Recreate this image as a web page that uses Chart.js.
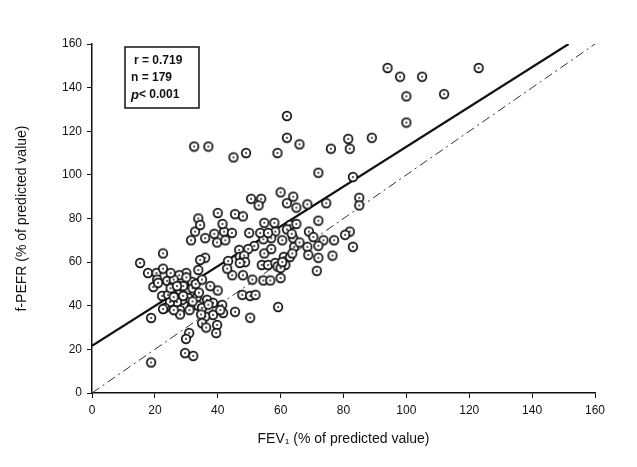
<!DOCTYPE html>
<html>
<head>
<meta charset="utf-8">
<script src="https://cdn.jsdelivr.net/npm/chart.js@4/dist/chart.umd.min.js"></script>
<style>
    body { margin: 0; background: #fff; }
    #wrap { width: 637px; height: 467px; }
</style>
</head>
<body>
<div id="wrap"><canvas id="chart" width="637" height="467"></canvas></div>
<script>
// FEV1 vs f-PEFR, both as % of predicted value
const fev1 = [
    94, 98, 105, 100, 112, 123, 100, 81.5, 89, 76, 82, 83, 85, 85, 62, 32.5, 37, 45, 49, 59,
    62, 66, 72, 82, 80.5, 60, 62, 64, 65, 68.5, 74.5, 72, 63, 65, 69, 70.4, 73.6, 77, 83, 68.5,
    72, 64.3, 64, 76.5, 68.8, 72, 71.5, 62, 63.5, 60.5, 58.3, 57, 54.5, 58, 54.8, 53.5, 56, 50, 50.6, 53.8,
    53, 40, 45.5, 48, 33.8, 32.8, 31.5, 36, 38.9, 42, 44.5, 41.5, 39.8, 42.4, 34.4, 51.6, 49.7, 46.8, 47, 48.4,
    66, 48.7, 54.8, 54, 56, 58.3, 59, 61.5, 61, 63, 63.7, 60, 60.5, 43.3, 57, 47, 44.6, 48, 51, 54.5,
    56.7, 60, 33.8, 36, 34.4, 47.8, 50.3, 52, 59.2, 50.3, 45.5, 40, 36.6, 38.5, 41.4, 41.7, 38.5, 36, 39.8, 39.5,
    15.3, 17.8, 20.5, 22.6, 22.6, 20.7, 19.5, 23.9, 25.8, 28, 31.8, 30, 27.7, 22.3, 24.2, 26.4, 28, 30, 32, 33.4,
    30.6, 28.7, 27, 24.8, 23.2, 28, 28, 31.8, 33.8, 35, 37, 26, 40.8, 34.7, 35, 36.3, 30.9, 29.9, 29.6, 32.2,
    18.8, 18.8, 22.6, 37.6, 29, 26, 30, 25, 33, 21, 34, 29, 32, 26, 43, 25, 35, 31, 27
];
const pefr = [
    149, 145, 145, 136, 137, 149, 124, 116.5, 117, 112, 112, 99, 89.5, 86, 127, 113, 113, 108, 110, 110,
    117, 114, 101, 74, 72.5, 92, 87, 90, 85, 86.5, 87, 79, 77, 77.5, 74, 71.5, 70, 70, 67, 67,
    67.5, 67, 71, 63, 63.3, 62, 56, 75, 73, 70, 74, 71, 70.5, 78, 78, 73.4, 73.4, 73.4, 89, 89,
    86, 82.5, 82, 81, 80, 74, 70, 71, 73, 74, 73.4, 77.5, 69, 70, 77, 67.4, 66, 65.6, 62.4, 63,
    69, 60, 64, 58.7, 58.7, 59.6, 58, 58.7, 62.4, 62.4, 64, 57.3, 60, 60.5, 66, 59.6, 54, 54, 52, 51.6,
    51.6, 52.7, 56.4, 62, 61, 45, 44.5, 45, 39.4, 34.5, 37.2, 47, 42.7, 41.3, 40.4, 36.7, 35.8, 35, 31.2, 27.5,
    59.6, 55, 55, 57, 64, 52, 48.6, 51.4, 49.5, 51, 51, 55, 54, 44.5, 45, 46.3, 47, 46.3, 48, 44,
    43.6, 42.7, 41.7, 41.7, 39, 38, 36, 40, 40, 39, 40.5, 38, 38, 36, 32, 30, 27.5, 24.8, 18.3, 17,
    34.4, 14, 38.5, 49, 49, 52, 53, 48, 50, 50.5, 46, 44.5, 42, 44, 57, 55, 52, 38, 49
];
const ticks = [0, 20, 40, 60, 80, 100, 120, 140, 160];

// fitted line (r = 0.719) and line of identity
const fitX = [0, 151.6];
const fitY = [21.6, 160];
const idX = [0, 160];
const idY = [0, 160];

const statLines = ['r = 0.719', 'n = 179', '< 0.001'];

// open circle with a dot in the middle, like the print
function makeMarker() {
    const c = document.createElement('canvas');
    c.width = 12; c.height = 12;
    const g = c.getContext('2d');
    g.beginPath();
    g.arc(6, 6, 4.3, 0, Math.PI * 2);
    g.fillStyle = '#fff';
    g.fill();
    g.lineWidth = 1.7;
    g.strokeStyle = '#111';
    g.stroke();
    g.beginPath();
    g.arc(6, 6, 1, 0, Math.PI * 2);
    g.fillStyle = '#222';
    g.fill();
    return c;
}

const statsBox = {
    id: 'statsBox',
    afterDatasetsDraw(chart) {
        const { ctx, chartArea } = chart;
        const left = chartArea.left + 33, top = chartArea.top + 3;
        ctx.save();
        ctx.fillStyle = '#fff';
        ctx.fillRect(left, top, 74, 61);
        ctx.strokeStyle = '#111';
        ctx.lineWidth = 1.5;
        ctx.strokeRect(left, top, 74, 61);
        ctx.fillStyle = '#111';
        ctx.textBaseline = 'middle';
        ctx.font = 'bold 12px "Liberation Sans", Arial, sans-serif';
        ctx.fillText(statLines[0], left + 9, top + 14);
        ctx.fillText(statLines[1], left + 6, top + 31);
        ctx.font = 'italic bold 13px "Liberation Sans", Arial, sans-serif';
        ctx.fillText('p', left + 6, top + 48);
        ctx.font = 'bold 12px "Liberation Sans", Arial, sans-serif';
        ctx.fillText(statLines[2], left + 14, top + 48);
        ctx.restore();
    }
};

const axisFont = { family: '"Liberation Sans", Arial, sans-serif', size: 12 };

new Chart(document.getElementById('chart'), {
    type: 'scatter',
    data: {
        datasets: [
            {
                label: 'patients',
                data: fev1.map((x, i) => ({ x, y: pefr[i] })),
                pointStyle: makeMarker(),
                order: 0
            },
            {
                type: 'line',
                label: 'fit',
                data: fitX.map((x, i) => ({ x, y: fitY[i] })),
                borderColor: '#111',
                borderWidth: 2.2,
                pointRadius: 0,
                order: 1
            },
            {
                type: 'line',
                label: 'identity',
                data: idX.map((x, i) => ({ x, y: idY[i] })),
                borderColor: '#333',
                borderWidth: 1,
                borderDash: [9, 4, 2, 4],
                pointRadius: 0,
                order: 2
            }
        ]
    },
    options: {
        responsive: false,
        animation: false,
        layout: { padding: { left: 0, top: 44, right: 42, bottom: 0 } },
        plugins: { legend: { display: false }, tooltip: { enabled: false } },
        scales: {
            x: {
                type: 'linear',
                min: 0, max: 160,
                afterBuildTicks: s => { s.ticks = ticks.map(v => ({ value: v })); },
                afterFit: s => { s.height = 74; },
                border: { display: true, color: '#111', width: 1.5 },
                grid: { drawOnChartArea: false, drawTicks: true, tickLength: 5, color: '#111' },
                ticks: { color: '#111', font: axisFont, padding: 5, maxRotation: 0 },
                title: {
                    display: true,
                    text: 'FEV\u2081 (% of predicted value)',
                    color: '#111',
                    font: { family: '"Liberation Sans", Arial, sans-serif', size: 14 },
                    padding: { top: 0, bottom: 19 }
                }
            },
            y: {
                type: 'linear',
                min: 0, max: 160,
                afterBuildTicks: s => { s.ticks = ticks.map(v => ({ value: v })); },
                afterFit: s => { s.width = 92; },
                border: { display: true, color: '#111', width: 1.5 },
                grid: { drawOnChartArea: false, drawTicks: true, tickLength: 5, color: '#111' },
                ticks: { color: '#111', font: axisFont, padding: 5 },
                title: {
                    display: true,
                    text: 'f-PEFR (% of predicted value)',
                    color: '#111',
                    font: { family: '"Liberation Sans", Arial, sans-serif', size: 14 },
                    padding: { top: 14, bottom: 0 }
                }
            }
        }
    },
    plugins: [statsBox]
});
</script>
</body>
</html>
